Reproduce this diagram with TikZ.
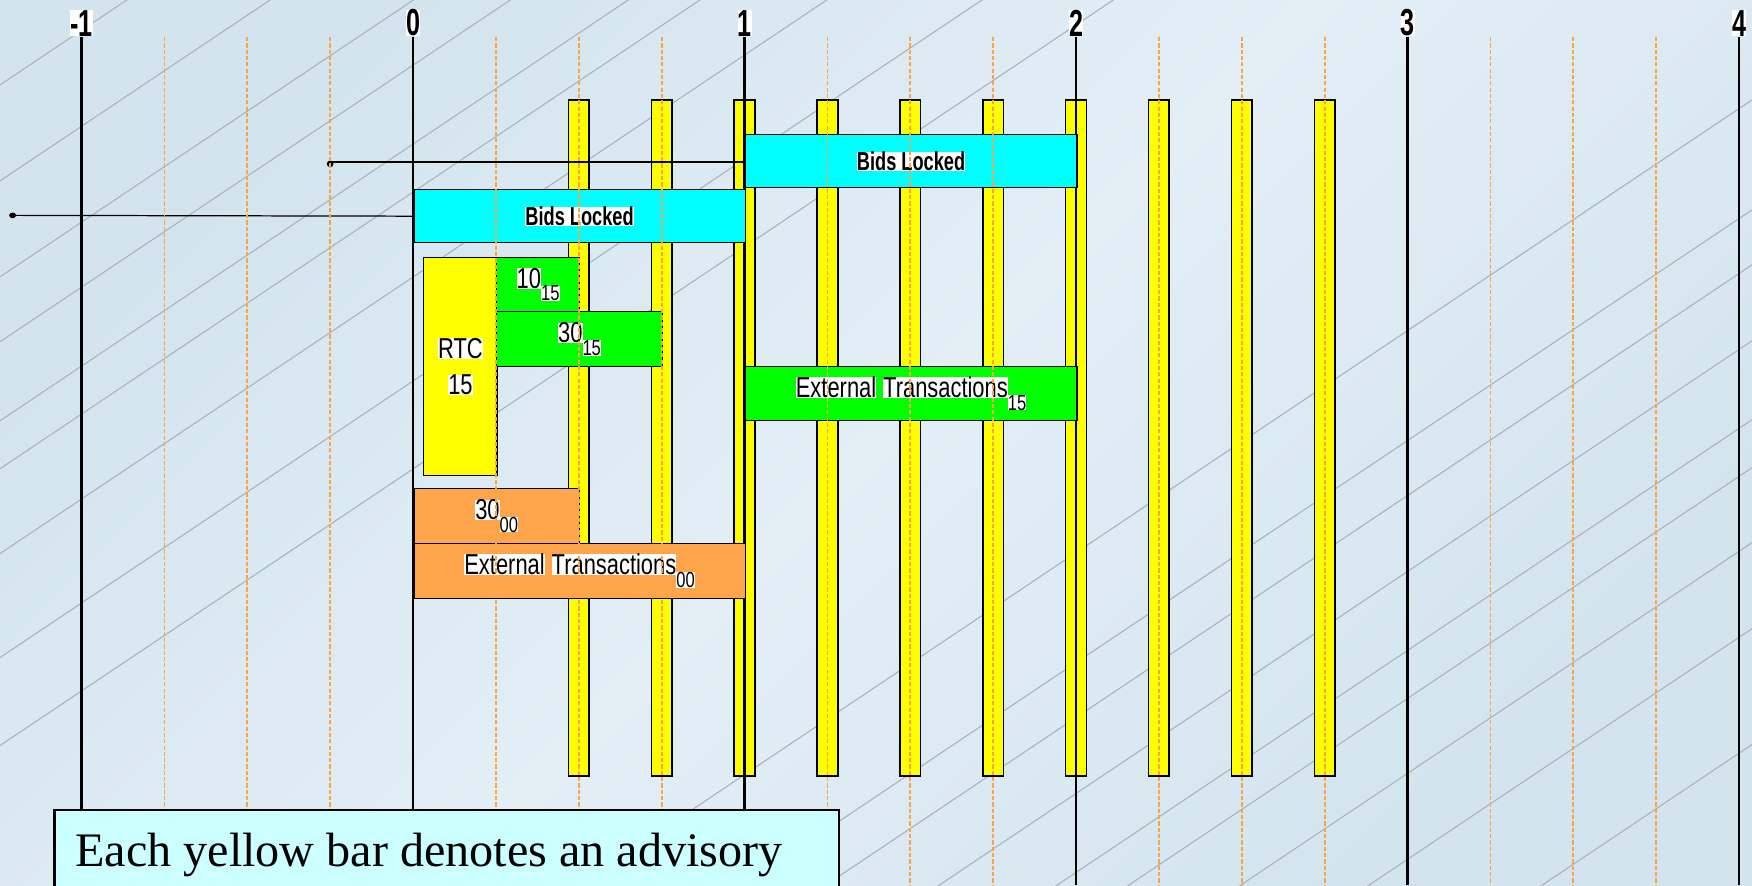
\documentclass[tikz,border=0pt]{standalone}
\usepackage{fontspec}
\usepackage{graphicx}
\usepackage{tikz}
\setmainfont{Liberation Serif}
\newfontfamily\arialfont{Liberation Sans}
\usetikzlibrary{positioning}

\definecolor{bgdark}{HTML}{D3E4EE}
\definecolor{bglight}{HTML}{E3EEF5}
\definecolor{advyellow}{HTML}{FFFF00}
\definecolor{bidcyan}{HTML}{00FFFF}
\definecolor{rtcgreen}{HTML}{00FF00}
\definecolor{extorange}{HTML}{FFA64D}
\definecolor{tickorange}{HTML}{FFA347}
\definecolor{notecyan}{HTML}{CCFFFF}
\definecolor{hatchgray}{HTML}{A9B1B8}

% white highlight behind a word, narrow sans, low index
\newcommand{\hl}[1]{{\setlength{\fboxsep}{0pt}\colorbox{white}{#1}}}
\newcommand{\nar}[1]{\scalebox{0.76}[1]{#1}}
\newcommand{\narb}[1]{\scalebox{0.70}[1]{#1}}
\newcommand{\narax}[1]{\scalebox{0.67}[1]{#1}}
\newcommand{\lowidx}[1]{\raisebox{-3.6pt}{\fontsize{6.2}{7}\selectfont\hl{#1}}}

\def\tunit{3.315cm}

\tikzset{
  axisline/.style={line width=0.78pt, black},
  axislabel/.style={font=\arialfont\bfseries\fontsize{10.7}{12}\selectfont, anchor=south, inner sep=0pt},
  quarter/.style={tickorange, line width=0.5pt, dash pattern=on 1.2pt off 0.6pt},
  hatch/.style={hatchgray, line width=0.3pt},
  link/.style={black, line width=0.35pt},
  advbar/.style={draw=black, fill=advyellow, line width=0.45pt, inner sep=0pt,
    minimum width=0.207cm, minimum height=6.755cm, anchor=north},
  tbox/.style={draw=black, line width=0.45pt, inner sep=0pt, anchor=north west,
    font=\arialfont\fontsize{8.2}{10.4}\selectfont, align=center},
  bidbox/.style={tbox, fill=bidcyan, font=\arialfont\bfseries\fontsize{7.4}{9}\selectfont},
  rtcbox/.style={tbox, fill=advyellow},
  grnbox/.style={tbox, fill=rtcgreen},
  orgbox/.style={tbox, fill=extorange},
  notebox/.style={draw=black, fill=notecyan, line width=0.6pt, inner sep=0pt, anchor=north west}
}

\begin{document}
\begin{tikzpicture}[x=\tunit, y={(0,-0.01cm)}]
  % Frame and background
  \useasboundingbox (-1.2459,0) rectangle (4.0392,886);
  \clip (-1.2459,0) rectangle (4.0392,886);
  \fill[top color=bgdark, bottom color=bgdark, middle color=bglight, shading angle=45]
    (-1.2459,0) rectangle (4.0392,886);
  \foreach \c in {85,181,277,342,421,469,554,658,746,1274,1384,1439,1515,1594,1642,1717,1803,1919}
    \draw[hatch] (-1.2459,\c) -- (4.0392,\c-1174);

  % Advisory bars
  \foreach \t [count=\i] in {0.5,0.75,...,2.75}
    \node[advbar] (adv\i) at (\t,99.5) {};

  % Time axis
  \foreach \t in {-1,...,4} {
    \draw[axisline] (\t,37) -- (\t,886);
    \node[axislabel] (lbl\t) at (\t,37) {\narax{\hl{\t}}};
  }

  % Boxes
  \node[bidbox, minimum width=\tunit, minimum height=0.53cm] (bidsB) at (1,134) {\narb{\hl{Bids Locked}}};
  \node[bidbox, minimum width=\tunit, minimum height=0.53cm] (bidsA) at (0,189) {\narb{\hl{Bids Locked}}};
  \node[rtcbox, minimum width=0.737cm, minimum height=2.18cm] (rtc) at (0.0295,257) {\nar{\hl{RTC}}\\\nar{\hl{15}}};
  \node[grnbox, minimum width=0.25*\tunit, minimum height=0.54cm] (ten15) at (0.25,257) {\nar{\hl{10}\lowidx{15}}};
  \node[grnbox, minimum width=0.5*\tunit, minimum height=0.55cm] (thirty15) at (0.25,311) {\nar{\hl{30}\lowidx{15}}};
  \node[grnbox, minimum width=\tunit, minimum height=0.54cm] (ext15) at (1,366) {\nar{\hl{External}\hspace{0.32em}\hl{Transactions}\lowidx{15}}};
  \node[orgbox, minimum width=0.5*\tunit, minimum height=0.55cm] (thirty00) at (0,488) {\nar{\hl{30}\lowidx{00}}};
  \node[orgbox, minimum width=\tunit, minimum height=0.55cm] (ext00) at (0,543) {\nar{\hl{External}\hspace{0.32em}\hl{Transactions}\lowidx{00}}};

  % Lines into the bid boxes
  \coordinate (startA) at (-1.2078,215.5);
  \coordinate (startB) at (-0.25,162);
  \draw[link] (startA) -- (bidsA.west);
  \draw[link] (startB) -- (startB -| bidsB.west);
  \fill (startA) ellipse [x radius=0.035cm, y radius=0.028cm];
  \draw[line width=0.6pt, fill=tickorange] ([yshift=-0.02cm]startB) circle [radius=0.022cm];

  % Quarter marks
  \foreach \k in {-1,...,3}
    \foreach \f in {0.25,0.5,0.75}
      \draw[quarter] ({\k+\f},37) -- ({\k+\f},886);

  % Note
  \node[notebox, minimum width=7.846cm, minimum height=1cm] (note) at (-1.0848,809) {};
  \node[anchor=base west, inner sep=0pt, font=\fontsize{13.7}{16}\selectfont] (notetext)
    at ([xshift=0.212cm, yshift=-0.58cm]note.north west) {Each yellow bar denotes an advisory};
\end{tikzpicture}
\end{document}
